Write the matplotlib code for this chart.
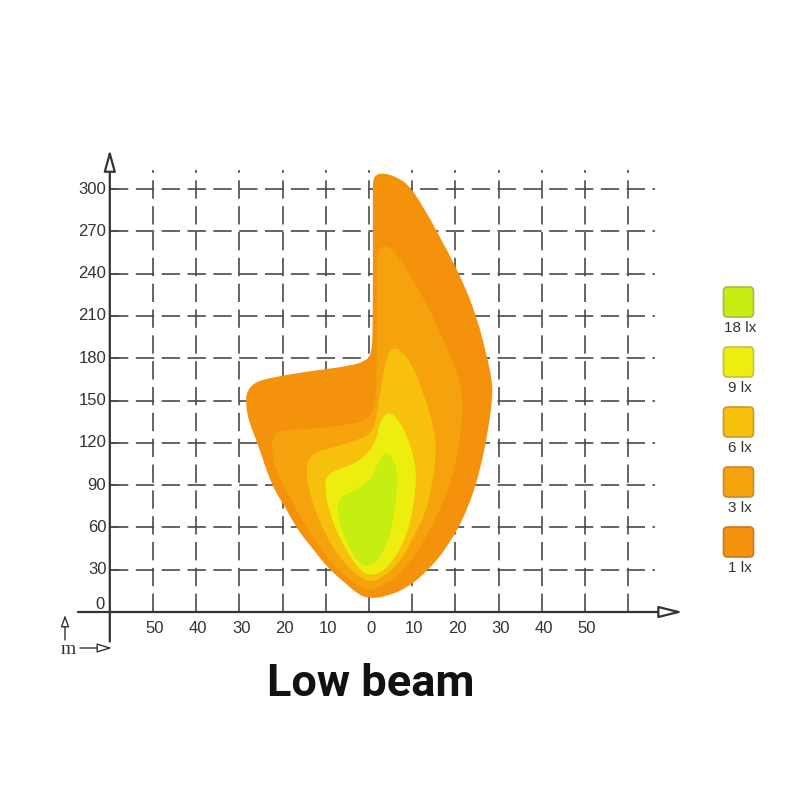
import matplotlib
matplotlib.use('Agg')
import matplotlib.pyplot as plt
from matplotlib.path import Path
from matplotlib.patches import PathPatch, FancyBboxPatch
import numpy as np

# ---------------- data ----------------
legend_labels = ['18 lx', '9 lx', '6 lx', '3 lx', '1 lx']
legend_colors = ['#C6EE12', '#EEEE0E', '#F6C00C', '#F5A20C', '#F4920C']
legend_edges = ['#A8B84A', '#C4C040', '#C89A30', '#C88A30', '#C47A28']

# iso-lux outlines (x in m lateral, y in m ahead)
outline_1lx = [(0.9, 295), (0.9, 306), (1.5, 310), (3.2, 311.5), (6.5, 308.5), (9.5, 302),
               (13, 285), (15.7, 270), (21.1, 239), (25, 209), (27.5, 179), (28.6, 162),
               (28.5, 150), (27.7, 131), (25.8, 101), (22.8, 72), (18.2, 46), (13.5, 29),
               (8.8, 17), (4, 11), (0, 9.5), (-2.5, 12.5), (-5.3, 20), (-9.5, 31), (-13, 45),
               (-16.5, 58), (-19.5, 75), (-22.6, 90), (-25.8, 120), (-27.7, 134), (-28.5, 146),
               (-28.4, 156), (-26.5, 163), (-22.2, 166.5), (-14.4, 170.5), (-4.4, 174.5),
               (-0.8, 178), (0.6, 183), (0.9, 200)]
outline_3lx = [(1.8, 240), (1.9, 255), (3.2, 260.5), (5.5, 257), (7.9, 247), (10.5, 234),
               (14.1, 214), (16.8, 196), (19.2, 179), (21.2, 162), (21.8, 143), (20.6, 110),
               (17.5, 79), (12.1, 46), (7.2, 27), (3, 18), (0.2, 15), (-3, 19), (-7.0, 29),
               (-13.3, 53), (-17.6, 77), (-19.9, 91), (-21.6, 100), (-22.5, 115), (-22.3, 124),
               (-20.6, 128.8), (-14.4, 129.8), (-6.7, 131.8), (-0.5, 136), (1.2, 145),
               (1.8, 160)]
outline_6lx = [(4.2, 181.5), (5.6, 188), (7.6, 185), (9.7, 177), (12.7, 155), (15.0, 131),
               (15.6, 115), (14.8, 92), (12.8, 67), (10.4, 55), (8.0, 38), (3.5, 25),
               (0.2, 20.5), (-3.9, 28.5), (-8.6, 46), (-12.4, 70), (-14.2, 91), (-14.5, 99),
               (-14.2, 108.5), (-12, 114), (-6.7, 118), (-1.4, 123.5), (1.0, 128.5), (1.9, 141),
               (3, 165)]
outline_9lx = [(4.2, 142), (6.2, 139), (8.6, 127), (10.6, 108), (11.0, 89), (9.2, 56),
               (4.5, 30.5), (0.2, 25), (-2.4, 30.5), (-6.4, 49), (-9.4, 72), (-10.2, 89),
               (-9.9, 96.5), (-7.4, 101), (-2.1, 106.5), (1.7, 120.5), (2.4, 134.5)]
outline_18lx = [(4.2, 114), (6.0, 106.5), (6.6, 95), (6.4, 84), (5.3, 58), (2.8, 38.5),
                (-0.2, 31.5), (-2.9, 36), (-5.5, 51), (-7.2, 67), (-7.2, 79.5), (-5.2, 84),
                (-2.0, 88), (0.9, 96.5), (2.4, 108.5)]
outlines = [outline_1lx, outline_3lx, outline_6lx, outline_9lx, outline_18lx]
fill_colors = ['#F4920C', '#F5A20C', '#F6C00C', '#EEEE0E', '#C6EE12']

x_grid = [-50, -40, -30, -20, -10, 0, 10, 20, 30, 40, 50, 60]
y_grid = [30, 60, 90, 120, 150, 180, 210, 240, 270, 300]
x_tick_pos = [-50, -40, -30, -20, -10, 0, 10, 20, 30, 40, 50]
x_tick_labels = ['50', '40', '30', '20', '10', '0', '10', '20', '30', '40', '50']
y_tick_pos = [0, 30, 60, 90, 120, 150, 180, 210, 240, 270, 300]
y_tick_labels = ['0', '30', '60', '90', '120', '150', '180', '210', '240', '270', '300']
title = 'Low beam'


def smooth_path(pts):
    P = np.asarray(pts, float)
    n = len(P)
    mids = (P + np.roll(P, -1, axis=0)) / 2
    verts = [mids[-1]]
    codes = [Path.MOVETO]
    for i in range(n):
        verts += [P[i], mids[i]]
        codes += [Path.CURVE3, Path.CURVE3]
    verts.append(mids[-1])
    codes.append(Path.CLOSEPOLY)
    return Path(verts, codes)


# ---------------- figure ----------------
fig = plt.figure(figsize=(8, 8), dpi=100)
fig.patch.set_facecolor('white')

# pixel mapping: x=0 at px 369, 4.32 px/m ; y=0 at py 612, 1.41 px/m
X0, XS, Y0, YS = 369.0, 4.32, 612.0, 1.41
L, R, T, B = 50, 700, 140, 660
ax = fig.add_axes([L / 800, 1 - B / 800, (R - L) / 800, (B - T) / 800])
ax.set_xlim((L - X0) / XS, (R - X0) / XS)
ax.set_ylim((Y0 - B) / YS, (Y0 - T) / YS)
ax.axis('off')

gcol = '#4a4a4a'
for xv in x_grid:
    ax.plot([xv, xv], [0, 313.5], color=gcol, lw=1.2, dashes=(11, 4.5), zorder=1)
for yv in y_grid:
    ax.plot([-60, 66.2], [yv, yv], color=gcol, lw=1.2, dashes=(11, 4.5), zorder=1)

for pts, c in zip(outlines, fill_colors):
    ax.add_patch(PathPatch(smooth_path(pts), facecolor=c, edgecolor='none', zorder=2))

acol = '#333333'
# y axis with hollow arrow
ax.annotate('', xy=(-60, 328), xytext=(-60, -21),
            arrowprops=dict(arrowstyle='-|>,head_length=1.3,head_width=0.36',
                            fc='white', ec=acol, lw=1.6, shrinkA=0, shrinkB=0),
            annotation_clip=False, zorder=5)
# x axis with hollow arrow
ax.annotate('', xy=(72.7, 0), xytext=(-67.4, 0),
            arrowprops=dict(arrowstyle='-|>,head_length=1.45,head_width=0.36',
                            fc='white', ec=acol, lw=1.6, shrinkA=0, shrinkB=0),
            annotation_clip=False, zorder=5)

tfont = dict(family='Liberation Sans', size=12, color='#333333')
for xv, lab in zip(x_tick_pos, x_tick_labels):
    ax.text(xv + 0.4, -11.5, lab, ha='center', va='center', **tfont)
for yv, lab in zip(y_tick_pos, y_tick_labels):
    if yv == 0:
        ax.text(-61.3, 5, lab, ha='right', va='center', **tfont)
    else:
        ax.plot([-60, -58.2], [yv, yv], color=gcol, lw=1.2)
        ax.text(-60.8, yv, lab, ha='right', va='center', **tfont)

# overlay in pixel coords for legend / title / unit marker
ov = fig.add_axes([0, 0, 1, 1])
ov.set_xlim(0, 800)
ov.set_ylim(800, 0)
ov.axis('off')
ov.patch.set_alpha(0)

# unit marker "m"
ov.text(68, 649, 'm', family='Liberation Serif', size=14, color='#333333',
        ha='center', va='center')
ov.annotate('', xy=(65, 615), xytext=(65, 640),
            arrowprops=dict(arrowstyle='-|>,head_length=0.7,head_width=0.25',
                            fc='white', ec=acol, lw=1.0, shrinkA=0, shrinkB=0))
ov.annotate('', xy=(112, 648), xytext=(80, 648),
            arrowprops=dict(arrowstyle='-|>,head_length=0.9,head_width=0.28',
                            fc='white', ec=acol, lw=1.0, shrinkA=0, shrinkB=0))

# legend
for i, (lab, c, ec) in enumerate(zip(legend_labels, legend_colors, legend_edges)):
    y = 287 + i * 60
    ov.add_patch(FancyBboxPatch((723.5, y), 30, 30, boxstyle='round,pad=0,rounding_size=4',
                                facecolor=c, edgecolor=ec, lw=1.2))
    ov.text(740, y + 41, lab, ha='center', va='center', family='Liberation Sans',
            size=11, color='#333333')

ov.text(371, 684, title, ha='center', va='center', family='Roboto', weight='bold',
        size=32.5, color='#111111')

fig.savefig('out.png', dpi=100, facecolor='white')
